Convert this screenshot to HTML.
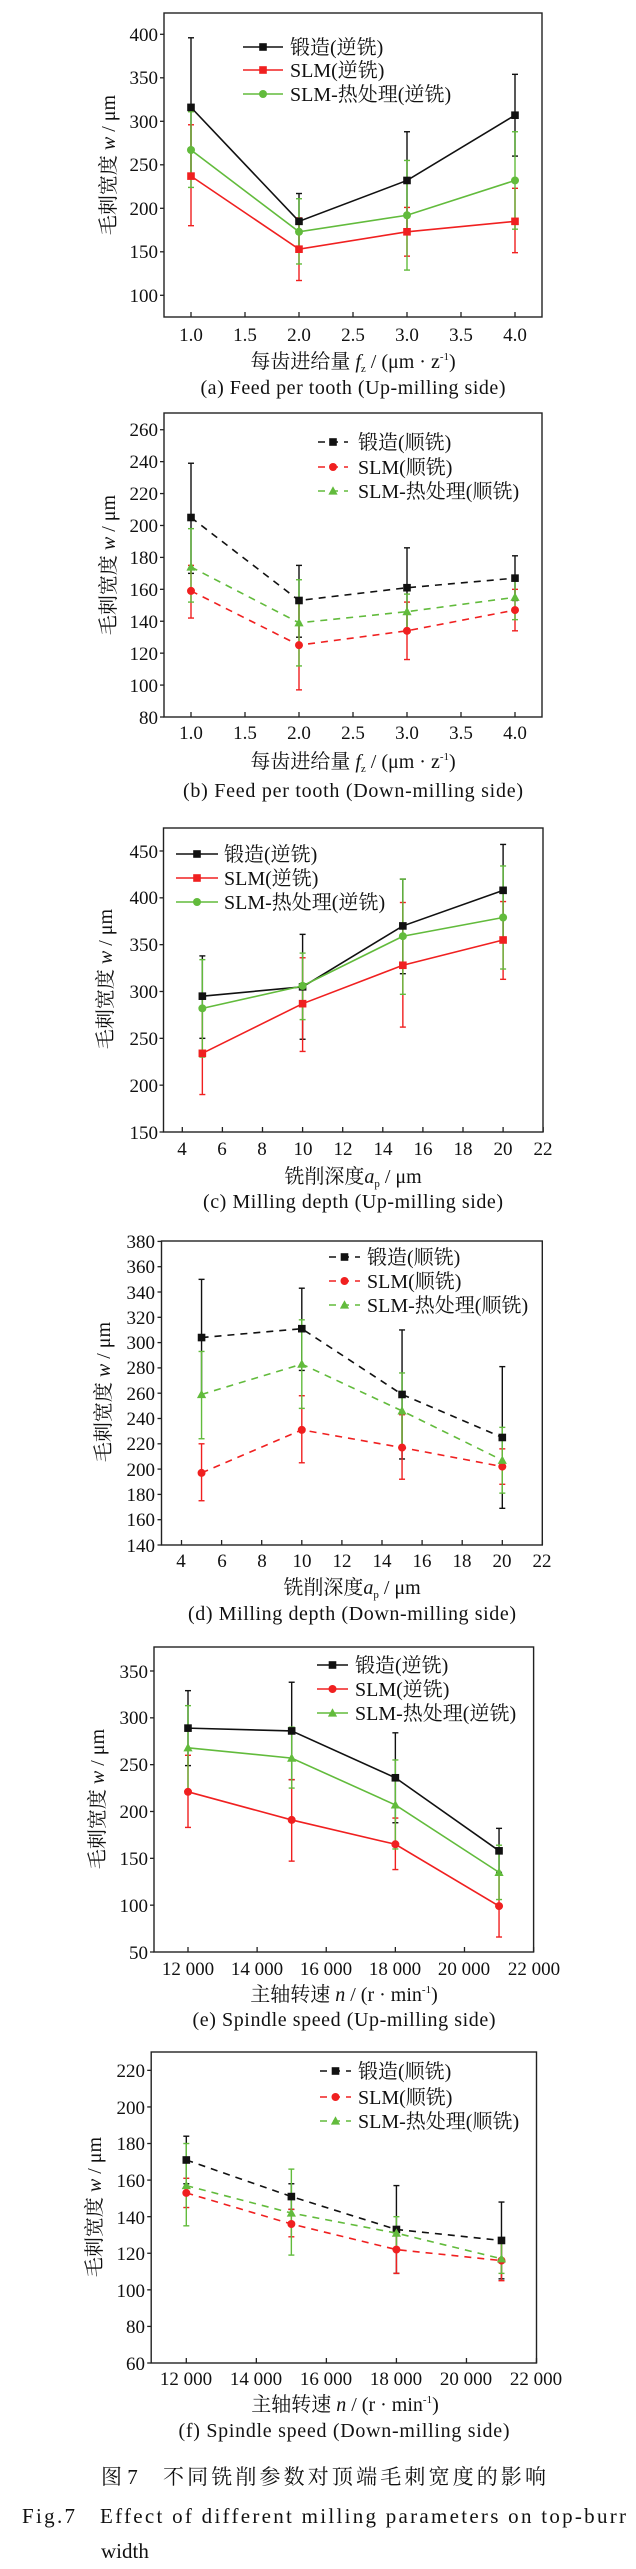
<!DOCTYPE html>
<html><head><meta charset="utf-8"><style>
html,body{margin:0;padding:0;background:#fff}
svg{display:block}
text{font-family:"Liberation Serif","Noto Serif CJK SC",serif;fill:#111}
.t{font-size:19px}
.l{font-size:20px}
</style></head><body>
<svg id="s" width="636" height="2569" viewBox="0 0 636 2569" xmlns="http://www.w3.org/2000/svg">
<g id="geo"></g>
<!-- chart a -->
<g class="t" text-anchor="end">
<text x="158" y="302">100</text><text x="158" y="258">150</text><text x="158" y="215">200</text><text x="158" y="171">250</text><text x="158" y="128">300</text><text x="158" y="84">350</text><text x="158" y="41">400</text>
</g>
<g class="t" text-anchor="middle">
<text x="191" y="341">1.0</text><text x="245" y="341">1.5</text><text x="299" y="341">2.0</text><text x="353" y="341">2.5</text><text x="407" y="341">3.0</text><text x="461" y="341">3.5</text><text x="515" y="341">4.0</text>
</g>
<text class="l" x="290" y="54">锻造(逆铣)</text><text class="l" x="290" y="77">SLM(逆铣)</text><text class="l" x="290" y="101">SLM-热处理(逆铣)</text>
<text class="l" text-anchor="middle" transform="translate(115,165) rotate(-90)">毛刺宽度 <tspan font-style="italic">w</tspan> / μm</text>
<text class="l" x="353" y="368" text-anchor="middle">每齿进给量 <tspan font-style="italic">f</tspan><tspan font-size="11" dy="4">z</tspan><tspan dy="-4"> / (μm · z</tspan><tspan font-size="11" dy="-8">-1</tspan><tspan dy="8">)</tspan></text>
<text class="l" x="353" y="394" text-anchor="middle" textLength="305">(a) Feed per tooth (Up-milling side)</text>
<!-- chart b -->
<g class="t" text-anchor="end">
<text x="158" y="724">80</text><text x="158" y="692">100</text><text x="158" y="660">120</text><text x="158" y="628">140</text><text x="158" y="596">160</text><text x="158" y="564">180</text><text x="158" y="532">200</text><text x="158" y="500">220</text><text x="158" y="468">240</text><text x="158" y="436">260</text>
</g>
<g class="t" text-anchor="middle">
<text x="191" y="739">1.0</text><text x="245" y="739">1.5</text><text x="299" y="739">2.0</text><text x="353" y="739">2.5</text><text x="407" y="739">3.0</text><text x="461" y="739">3.5</text><text x="515" y="739">4.0</text>
</g>
<text class="l" x="358" y="449">锻造(顺铣)</text><text class="l" x="358" y="474">SLM(顺铣)</text><text class="l" x="358" y="498">SLM-热处理(顺铣)</text>
<text class="l" text-anchor="middle" transform="translate(115,565) rotate(-90)">毛刺宽度 <tspan font-style="italic">w</tspan> / μm</text>
<text class="l" x="353" y="768" text-anchor="middle">每齿进给量 <tspan font-style="italic">f</tspan><tspan font-size="11" dy="4">z</tspan><tspan dy="-4"> / (μm · z</tspan><tspan font-size="11" dy="-8">-1</tspan><tspan dy="8">)</tspan></text>
<text class="l" x="353" y="797" text-anchor="middle" textLength="340">(b) Feed per tooth (Down-milling side)</text>
<!-- chart c -->
<g class="t" text-anchor="end">
<text x="158" y="1139">150</text><text x="158" y="1092">200</text><text x="158" y="1045">250</text><text x="158" y="998">300</text><text x="158" y="951">350</text><text x="158" y="904">400</text><text x="158" y="858">450</text>
</g>
<g class="t" text-anchor="middle">
<text x="182" y="1155">4</text><text x="222" y="1155">6</text><text x="262" y="1155">8</text><text x="303" y="1155">10</text><text x="343" y="1155">12</text><text x="383" y="1155">14</text><text x="423" y="1155">16</text><text x="463" y="1155">18</text><text x="503" y="1155">20</text><text x="543" y="1155">22</text>
</g>
<text class="l" x="224" y="861">锻造(逆铣)</text><text class="l" x="224" y="885">SLM(逆铣)</text><text class="l" x="224" y="909">SLM-热处理(逆铣)</text>
<text class="l" text-anchor="middle" transform="translate(112,979) rotate(-90)">毛刺宽度 <tspan font-style="italic">w</tspan> / μm</text>
<text class="l" x="353" y="1183" text-anchor="middle">铣削深度<tspan font-style="italic">a</tspan><tspan font-size="11" dy="4">p</tspan><tspan dy="-4"> / μm</tspan></text>
<text class="l" x="353" y="1208" text-anchor="middle" textLength="300">(c) Milling depth (Up-milling side)</text>
<!-- chart d -->
<g class="t" text-anchor="end">
<text x="155" y="1552">140</text><text x="155" y="1526">160</text><text x="155" y="1501">180</text><text x="155" y="1476">200</text><text x="155" y="1450">220</text><text x="155" y="1425">240</text><text x="155" y="1400">260</text><text x="155" y="1374">280</text><text x="155" y="1349">300</text><text x="155" y="1324">320</text><text x="155" y="1299">340</text><text x="155" y="1273">360</text><text x="155" y="1248">380</text>
</g>
<g class="t" text-anchor="middle">
<text x="181" y="1567">4</text><text x="222" y="1567">6</text><text x="262" y="1567">8</text><text x="302" y="1567">10</text><text x="342" y="1567">12</text><text x="382" y="1567">14</text><text x="422" y="1567">16</text><text x="462" y="1567">18</text><text x="502" y="1567">20</text><text x="542" y="1567">22</text>
</g>
<text class="l" x="367" y="1264">锻造(顺铣)</text><text class="l" x="367" y="1288">SLM(顺铣)</text><text class="l" x="367" y="1312">SLM-热处理(顺铣)</text>
<text class="l" text-anchor="middle" transform="translate(110,1392) rotate(-90)">毛刺宽度 <tspan font-style="italic">w</tspan> / μm</text>
<text class="l" x="352" y="1594" text-anchor="middle">铣削深度<tspan font-style="italic">a</tspan><tspan font-size="11" dy="4">p</tspan><tspan dy="-4"> / μm</tspan></text>
<text class="l" x="352" y="1620" text-anchor="middle" textLength="328">(d) Milling depth (Down-milling side)</text>
<!-- chart e -->
<g class="t" text-anchor="end">
<text x="148" y="1959">50</text><text x="148" y="1912">100</text><text x="148" y="1865">150</text><text x="148" y="1818">200</text><text x="148" y="1771">250</text><text x="148" y="1724">300</text><text x="148" y="1678">350</text>
</g>
<g class="t" text-anchor="middle">
<text x="188" y="1975">12 000</text><text x="257" y="1975">14 000</text><text x="326" y="1975">16 000</text><text x="395" y="1975">18 000</text><text x="464" y="1975">20 000</text><text x="534" y="1975">22 000</text>
</g>
<text class="l" x="355" y="1672">锻造(逆铣)</text><text class="l" x="355" y="1696">SLM(逆铣)</text><text class="l" x="355" y="1720">SLM-热处理(逆铣)</text>
<text class="l" text-anchor="middle" transform="translate(104,1799) rotate(-90)">毛刺宽度 <tspan font-style="italic">w</tspan> / μm</text>
<text class="l" x="344" y="2001" text-anchor="middle">主轴转速 <tspan font-style="italic">n</tspan> / (r · min<tspan font-size="11" dy="-8">-1</tspan><tspan dy="8">)</tspan></text>
<text class="l" x="344" y="2026" text-anchor="middle" textLength="303">(e) Spindle speed (Up-milling side)</text>
<!-- chart f -->
<g class="t" text-anchor="end">
<text x="145" y="2370">60</text><text x="145" y="2333">80</text><text x="145" y="2297">100</text><text x="145" y="2260">120</text><text x="145" y="2224">140</text><text x="145" y="2187">160</text><text x="145" y="2150">180</text><text x="145" y="2114">200</text><text x="145" y="2077">220</text>
</g>
<g class="t" text-anchor="middle">
<text x="186" y="2385">12 000</text><text x="256" y="2385">14 000</text><text x="326" y="2385">16 000</text><text x="396" y="2385">18 000</text><text x="466" y="2385">20 000</text><text x="536" y="2385">22 000</text>
</g>
<text class="l" x="358" y="2078">锻造(顺铣)</text><text class="l" x="358" y="2104">SLM(顺铣)</text><text class="l" x="358" y="2128">SLM-热处理(顺铣)</text>
<text class="l" text-anchor="middle" transform="translate(101,2207) rotate(-90)">毛刺宽度 <tspan font-style="italic">w</tspan> / μm</text>
<text class="l" x="345" y="2411" text-anchor="middle">主轴转速 <tspan font-style="italic">n</tspan> / (r · min<tspan font-size="11" dy="-8">-1</tspan><tspan dy="8">)</tspan></text>
<text class="l" x="344" y="2437" text-anchor="middle" textLength="331">(f) Spindle speed (Down-milling side)</text>
<!-- figure caption -->
<text x="101" y="2484" style="font-size:21px">图 7</text>
<text x="163" y="2484" style="font-size:21px" textLength="383">不同铣削参数对顶端毛刺宽度的影响</text>
<text x="22" y="2523" style="font-size:21px" textLength="53">Fig.7</text>
<text x="100" y="2523" style="font-size:21px" textLength="526">Effect of different milling parameters on top-burr</text>
<text x="101" y="2558" style="font-size:21px">width</text>
</svg>
<script>
(function(){
var NS="http://www.w3.org/2000/svg",G=document.getElementById("geo");
function el(n,a){var e=document.createElementNS(NS,n);for(var k in a)e.setAttribute(k,a[k]);G.appendChild(e);return e;}
var K="#111",R="#f02020",Gr="#62bb3c";
function mark(t,x,y,c){
 if(t=="s")el("rect",{x:x-3.8,y:y-3.8,width:7.6,height:7.6,fill:c});
 else if(t=="c")el("circle",{cx:x,cy:y,r:4,fill:c});
 else el("polygon",{points:(x)+","+(y-4.8)+" "+(x-4.6)+","+(y+3.6)+" "+(x+4.6)+","+(y+3.6),fill:c});
}
function chart(o){
 var X=o.X,Y=o.Y,b=o.box;
 el("rect",{x:b[0],y:b[1],width:b[2]-b[0],height:b[3]-b[1],fill:"none",stroke:"#222","stroke-width":1.4});
 o.xt.forEach(function(v){var x=X(v);el("line",{x1:x,x2:x,y1:b[3],y2:b[3]-5,stroke:"#222","stroke-width":1.3});});
 o.yt.forEach(function(v){var y=Y(v);el("line",{x1:b[0],x2:b[0]-4,y1:y,y2:y,stroke:"#222","stroke-width":1.3});});
 var cols=[K,R,Gr];
 o.s.forEach(function(s,i){var c=cols[i];
  s.d.forEach(function(p){var x=X(p[0]);
   el("line",{x1:x,x2:x,y1:Y(p[2]),y2:Y(p[3]),stroke:c,"stroke-width":1.4});
   [p[2],p[3]].forEach(function(v){el("line",{x1:x-3,x2:x+3,y1:Y(v),y2:Y(v),stroke:c,"stroke-width":1.4});});
  });});
 o.s.forEach(function(s,i){var c=cols[i];
  var pts=s.d.map(function(p){return X(p[0])+","+Y(p[1]);}).join(" ");
  var a={points:pts,fill:"none",stroke:c,"stroke-width":1.6};
  if(o.dash)a["stroke-dasharray"]="7,6";
  el("polyline",a);
  s.d.forEach(function(p){mark(s.m,X(p[0]),Y(p[1]),c);});
  var L=o.leg,y=L.y[i];
  var la={x1:L.x1,x2:L.x2,y1:y,y2:y,stroke:c,"stroke-width":1.6};
  if(o.dash)la["stroke-dasharray"]="7,6";
  el("line",la);mark(s.m,(L.x1+L.x2)/2,y,c);
 });
}
function rng(a,b,s){var r=[];for(var v=a;v<=b+1e-9;v+=s)r.push(v);return r;}
chart({box:[164,13,542,317],X:function(v){return 191+(v-1)*108},Y:function(v){return 295.3-(v-100)*0.87},
 xt:rng(1,4,.5),yt:rng(100,400,50),leg:{x1:243,x2:283,y:[47,70,94]},
 s:[{m:"s",d:[[1,316,236,396],[2,185,153,217],[3,232,176,288],[4,307,260,354]]},
    {m:"s",d:[[1,237,180,296],[2,153,117,189],[3,173,145,201],[4,185,149,223]]},
    {m:"c",d:[[1,267,224,311],[2,173,136,211],[3,192,129,255],[4,232,176,288]]}]});
chart({dash:1,box:[164,413,542,717],X:function(v){return 191+(v-1)*108},Y:function(v){return 717-(v-80)*1.596},
 xt:rng(1,4,.5),yt:rng(80,260,20),leg:{x1:318,x2:348,y:[442,467,491]},
 s:[{m:"s",d:[[1,205,170,239],[2,153,130,175],[3,161,135,186],[4,167,153,181]]},
    {m:"c",d:[[1,159,142,175],[2,125,97,153],[3,134,116,152],[4,147,134,160]]},
    {m:"t",d:[[1,174,152,198],[2,139,112,166],[3,146,135,157],[4,155,141,168]]}]});
chart({box:[163.5,828,543,1132],X:function(v){return 182.3+(v-4)*20.05},Y:function(v){return 1132-(v-150)*0.9367},
 xt:rng(4,22,2),yt:rng(150,450,50),leg:{x1:176,x2:218,y:[854,878,902]},
 s:[{m:"s",d:[[5,295,250,338],[10,305,249,361],[15,370,319,420],[20,408,357,457]]},
    {m:"s",d:[[5,234,190,280],[10,287,236,336],[15,328,262,395],[20,355,313,396]]},
    {m:"c",d:[[5,282,230,334],[10,306,270,341],[15,359,297,420],[20,379,324,434]]}]});
chart({dash:1,box:[161.5,1241,542.3,1545],X:function(v){return 181.5+(v-4)*20.05},Y:function(v){return 1545-(v-140)*1.265},
 xt:rng(4,22,2),yt:rng(140,380,20),leg:{x1:329,x2:360,y:[1257,1281,1305]},
 s:[{m:"s",d:[[5,304,258,350],[10,311,278,343],[15,259,208,310],[20,225,169,281]]},
    {m:"c",d:[[5,197,175,220],[10,231,205,258],[15,217,192,243],[20,202,188,216]]},
    {m:"t",d:[[5,259,224,293],[10,283,248,318],[15,246,216,276],[20,207,181,233]]}]});
chart({box:[154,1647,533.6,1952],X:function(v){return 188+(v-12)*34.56},Y:function(v){return 1952-(v-50)*0.9367},
 xt:rng(12,22,2),yt:rng(50,350,50),leg:{x1:317,x2:348,y:[1665,1689,1713]},
 s:[{m:"s",d:[[12,289,249,329],[15,286,234,338],[18,236,188,284],[21,158,135,182]]},
    {m:"c",d:[[12,221,183,260],[15,191,147,234],[18,165,138,193],[21,99,66,133]]},
    {m:"t",d:[[12,268,223,313],[15,257,225,290],[18,207,160,255],[21,135,106,164]]}]});
chart({dash:1,box:[151.2,2052,536.5,2363],X:function(v){return 186.3+(v-12)*35.02},Y:function(v){return 2363-(v-60)*1.829},
 xt:rng(12,22,2),yt:rng(60,220,20),leg:{x1:320,x2:351,y:[2071,2097,2121]},
 s:[{m:"s",d:[[12,171,158,184],[15,151,144,158],[18,133,109,157],[21,127,106,148]]},
    {m:"c",d:[[12,153,145,161],[15,136,129,144],[18,122,109,134],[21,116,105,128]]},
    {m:"t",d:[[12,157,135,180],[15,142,119,166],[18,131,122,140],[21,117,109,127]]}]});
})();
</script>
</body></html>
